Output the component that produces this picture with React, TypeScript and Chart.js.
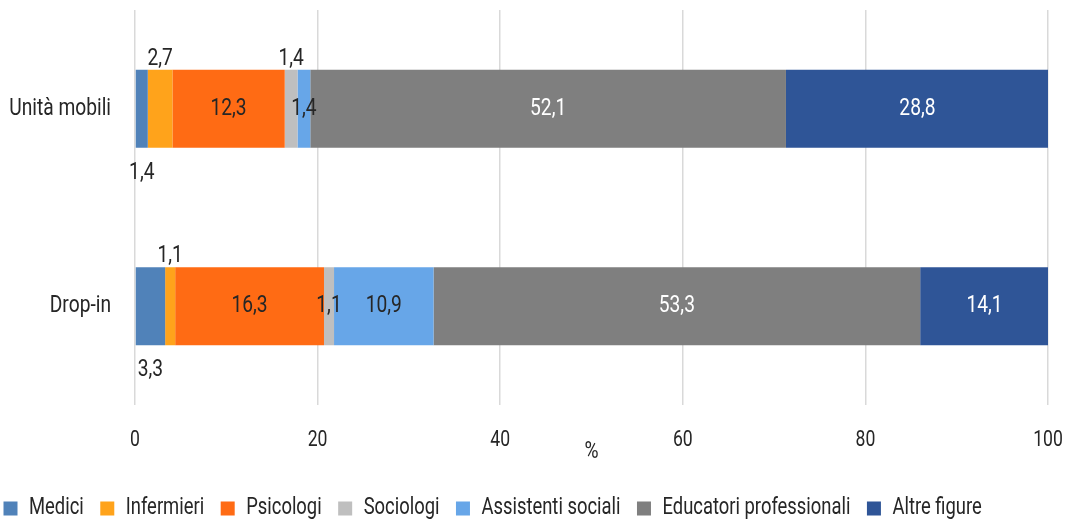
import React, { useEffect, useRef } from "react";
import { Chart, registerables } from "chart.js";

Chart.register(...registerables);

const categories = ["Unità mobili", "Drop-in"];
const seriesNames = [
  "Medici",
  "Infermieri",
  "Psicologi",
  "Sociologi",
  "Assistenti sociali",
  "Educatori professionali",
  "Altre figure",
];
const medici = [1.4, 3.3];
const infermieri = [2.7, 1.1];
const psicologi = [12.3, 16.3];
const sociologi = [1.4, 1.1];
const assistenti = [1.4, 10.9];
const educatori = [52.1, 53.3];
const altre = [28.8, 14.1];
const xTicks = [0, 20, 40, 60, 80, 100];

const colors = ["#5082B9", "#FFA31B", "#FF6B14", "#BFBFBF", "#67A6E8", "#7F7F7F", "#2F5597"];
const TEXT = "#262626";
const labelColors = [TEXT, TEXT, TEXT, TEXT, TEXT, "#ffffff", "#ffffff"];
// placement of each label: [dataset][category]
const placement: string[][] = [
  ["below", "below"],
  ["above", "above"],
  ["in", "in"],
  ["above", "in"],
  ["in", "in"],
  ["in", "in"],
  ["in", "in"],
];

const FONT = "Roboto, 'DejaVu Sans', sans-serif";
const FS = 24;
const SX = 0.8; // horizontal condensing of text

const labelPlugin = {
  id: "segLabels",
  afterLayout(chart: any) {
    if (chart.legend) {
      chart.legend.left -= 13;
      chart.legend.right -= 13;
    }
  },
  afterDatasetsDraw(chart: any) {
    const ctx = chart.ctx;
    ctx.save();
    ctx.font = `${FS}px ${FONT}`;
    ctx.textAlign = "center";
    ctx.textBaseline = "middle";
    chart.data.datasets.forEach((ds: any, i: number) => {
      const meta = chart.getDatasetMeta(i);
      meta.data.forEach((bar: any, j: number) => {
        const v = ds.data[j];
        const txt = String(v).replace(".", ",");
        const cx = (bar.x + bar.base) / 2;
        const h = bar.height;
        const pos = placement[i][j];
        let y = bar.y;
        if (pos === "above") y = bar.y - h / 2 - 11;
        if (pos === "below") y = bar.y + h / 2 + 25;
        ctx.fillStyle = pos === "in" ? labelColors[i] : TEXT;
        ctx.fillText(txt, cx, y);
      });
    });
    ctx.restore();
  },
};

function condense(ctx: any) {
  const origFill = ctx.fillText.bind(ctx);
  const origMeasure = ctx.measureText.bind(ctx);
  ctx.fillText = (text: string, x: number, y: number, maxWidth?: number) => {
    ctx.save();
    ctx.translate(x, y);
    ctx.scale(SX, 1);
    if (maxWidth !== undefined) origFill(text, 0, 0, maxWidth / SX);
    else origFill(text, 0, 0);
    ctx.restore();
  };
  ctx.measureText = (text: string) => {
    const m = origMeasure(text);
    return {
      width: m.width * SX,
      actualBoundingBoxAscent: m.actualBoundingBoxAscent,
      actualBoundingBoxDescent: m.actualBoundingBoxDescent,
      actualBoundingBoxLeft: m.actualBoundingBoxLeft * SX,
      actualBoundingBoxRight: m.actualBoundingBoxRight * SX,
      fontBoundingBoxAscent: m.fontBoundingBoxAscent,
      fontBoundingBoxDescent: m.fontBoundingBoxDescent,
    };
  };
}

export default function App() {
  const ref = useRef<HTMLCanvasElement>(null);
  useEffect(() => {
    document.body.style.margin = "0";
    const canvas = ref.current!;
    condense(canvas.getContext("2d"));
    const data = [medici, infermieri, psicologi, sociologi, assistenti, educatori, altre];
    const chart = new Chart(canvas, {
      type: "bar",
      data: {
        labels: categories,
        datasets: seriesNames.map((n, i) => ({
          label: n,
          data: data[i],
          backgroundColor: colors[i],
          borderWidth: 0,
          categoryPercentage: 0.79,
          barPercentage: 0.5,
        })),
      },
      options: {
        indexAxis: "y",
        responsive: false,
        animation: false,
        maintainAspectRatio: false,
        layout: { padding: { top: 10, right: 21, left: 0, bottom: -8 } },
        plugins: {
          legend: {
            position: "bottom",
            align: "start",
            labels: {
              boxWidth: 14,
              boxHeight: 14,
              padding: 16.5,
              color: TEXT,
              font: { family: FONT, size: 23 },
            },
          },
          tooltip: { enabled: false },
        },
        scales: {
          x: {
            stacked: true,
            min: 0,
            max: 100,
            afterBuildTicks: (s: any) => {
              s.ticks = xTicks.map((v) => ({ value: v }));
            },
            grid: { color: "#D9D9D9", drawTicks: false, lineWidth: 1.5 },
            border: { display: false },
            ticks: { padding: 22, color: TEXT, font: { family: FONT, size: 22 } },
            title: {
              display: true,
              text: "%",
              color: TEXT,
              font: { family: FONT, size: 24 },
              padding: { top: 0, bottom: 14 },
            },
            afterFit: (s: any) => {
              s.height = 75.5;
              s.paddingLeft = 0;
              s.paddingRight = 0;
            },
          },
          y: {
            stacked: true,
            grid: { display: false, drawTicks: false },
            border: { display: false },
            ticks: { padding: 24, color: TEXT, font: { family: FONT, size: FS } },
            afterFit: (s: any) => {
              s.width = 135;
              s.paddingTop = 0;
              s.paddingBottom = 0;
            },
          },
        },
      },
      plugins: [labelPlugin],
    });
    return () => chart.destroy();
  }, []);
  return (
    <div style={{ position: "absolute", left: 0, top: 0, width: 1069, height: 522 }}>
      <canvas ref={ref} width={1069} height={522} />
    </div>
  );
}
